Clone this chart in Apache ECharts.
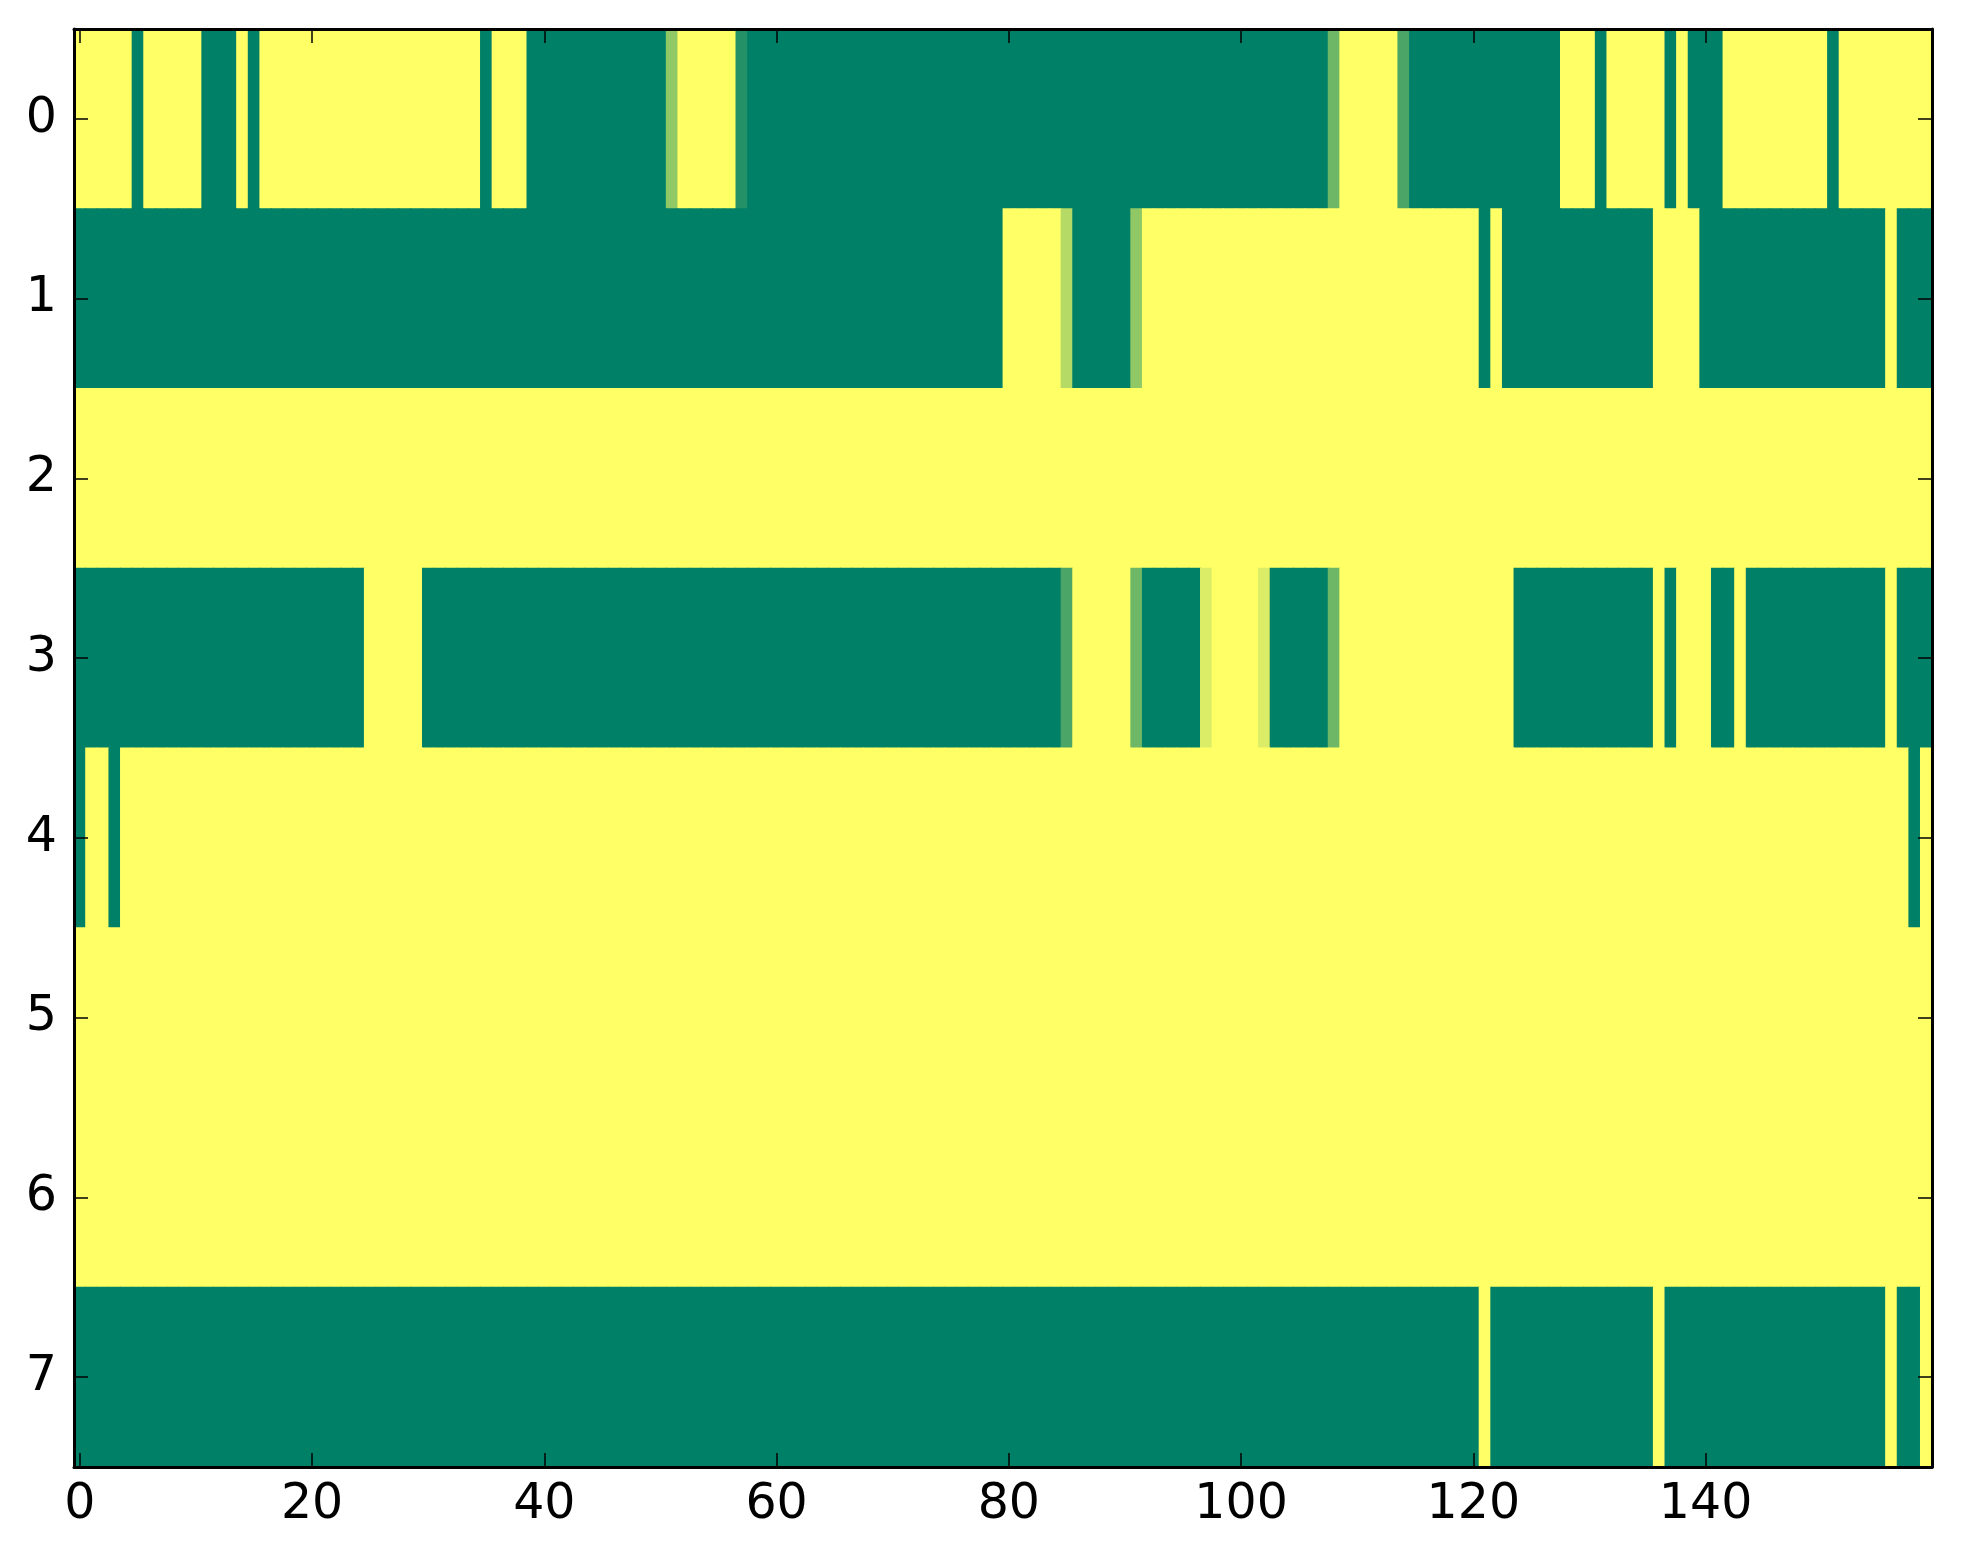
<!DOCTYPE html>
<html>
<head>
<meta charset="utf-8">
<script src="https://cdn.jsdelivr.net/npm/echarts@6/dist/echarts.min.js"></script>
<style>html,body{margin:0;padding:0;background:#fff;}#chart{width:1963px;height:1564px;}</style>
</head>
<body>
<div id="chart"></div>
<script>
// Column indices (x categories) and row indices (y categories)
const columnIndex = Array.from({length: 160}, (_, i) => i);
const rowIndex = [0, 1, 2, 3, 4, 5, 6, 7];
const xTickLabels = [0, 20, 40, 60, 80, 100, 120, 140];
const yTickLabels = [0, 1, 2, 3, 4, 5, 6, 7];

// Cell values (0 = green, 1 = yellow)
const row0 = [
  1,1,1,1,1,0,1,1,1,1,1,0,0,0,1,0,1,1,1,1,
  1,1,1,1,1,1,1,1,1,1,1,1,1,1,1,0,1,1,1,0,
  0,0,0,0,0,0,0,0,0,0,0,0.57,1,1,1,1,1,0.14,0,0,
  0,0,0,0,0,0,0,0,0,0,0,0,0,0,0,0,0,0,0,0,
  0,0,0,0,0,0,0,0,0,0,0,0,0,0,0,0,0,0,0,0,
  0,0,0,0,0,0,0,0,0.43,1,1,1,1,1,0.29,0,0,0,0,0,
  0,0,0,0,0,0,0,0,1,1,1,0,1,1,1,1,1,0,1,0,
  0,0,1,1,1,1,1,1,1,1,1,0,1,1,1,1,1,1,1,1
];
const row1 = [
  0,0,0,0,0,0,0,0,0,0,0,0,0,0,0,0,0,0,0,0,
  0,0,0,0,0,0,0,0,0,0,0,0,0,0,0,0,0,0,0,0,
  0,0,0,0,0,0,0,0,0,0,0,0,0,0,0,0,0,0,0,0,
  0,0,0,0,0,0,0,0,0,0,0,0,0,0,0,0,0,0,0,0,
  1,1,1,1,1,0.71,0,0,0,0,0,0.57,1,1,1,1,1,1,1,1,
  1,1,1,1,1,1,1,1,1,1,1,1,1,1,1,1,1,1,1,1,
  1,0,1,0,0,0,0,0,0,0,0,0,0,0,0,0,1,1,1,1,
  0,0,0,0,0,0,0,0,0,0,0,0,0,0,0,0,1,0,0,0
];
const row2 = [
  1,1,1,1,1,1,1,1,1,1,1,1,1,1,1,1,1,1,1,1,
  1,1,1,1,1,1,1,1,1,1,1,1,1,1,1,1,1,1,1,1,
  1,1,1,1,1,1,1,1,1,1,1,1,1,1,1,1,1,1,1,1,
  1,1,1,1,1,1,1,1,1,1,1,1,1,1,1,1,1,1,1,1,
  1,1,1,1,1,1,1,1,1,1,1,1,1,1,1,1,1,1,1,1,
  1,1,1,1,1,1,1,1,1,1,1,1,1,1,1,1,1,1,1,1,
  1,1,1,1,1,1,1,1,1,1,1,1,1,1,1,1,1,1,1,1,
  1,1,1,1,1,1,1,1,1,1,1,1,1,1,1,1,1,1,1,1
];
const row3 = [
  0,0,0,0,0,0,0,0,0,0,0,0,0,0,0,0,0,0,0,0,
  0,0,0,0,0,1,1,1,1,1,0,0,0,0,0,0,0,0,0,0,
  0,0,0,0,0,0,0,0,0,0,0,0,0,0,0,0,0,0,0,0,
  0,0,0,0,0,0,0,0,0,0,0,0,0,0,0,0,0,0,0,0,
  0,0,0,0,0,0.29,1,1,1,1,1,0.43,0,0,0,0,0,0.86,1,1,
  1,1,0.86,0,0,0,0,0,0.43,1,1,1,1,1,1,1,1,1,1,1,
  1,1,1,1,0,0,0,0,0,0,0,0,0,0,0,0,1,0,1,1,
  1,0,0,1,0,0,0,0,0,0,0,0,0,0,0,0,1,0,0,0
];
const row4 = [
  0,1,1,0,1,1,1,1,1,1,1,1,1,1,1,1,1,1,1,1,
  1,1,1,1,1,1,1,1,1,1,1,1,1,1,1,1,1,1,1,1,
  1,1,1,1,1,1,1,1,1,1,1,1,1,1,1,1,1,1,1,1,
  1,1,1,1,1,1,1,1,1,1,1,1,1,1,1,1,1,1,1,1,
  1,1,1,1,1,1,1,1,1,1,1,1,1,1,1,1,1,1,1,1,
  1,1,1,1,1,1,1,1,1,1,1,1,1,1,1,1,1,1,1,1,
  1,1,1,1,1,1,1,1,1,1,1,1,1,1,1,1,1,1,1,1,
  1,1,1,1,1,1,1,1,1,1,1,1,1,1,1,1,1,1,0,1
];
const row5 = [
  1,1,1,1,1,1,1,1,1,1,1,1,1,1,1,1,1,1,1,1,
  1,1,1,1,1,1,1,1,1,1,1,1,1,1,1,1,1,1,1,1,
  1,1,1,1,1,1,1,1,1,1,1,1,1,1,1,1,1,1,1,1,
  1,1,1,1,1,1,1,1,1,1,1,1,1,1,1,1,1,1,1,1,
  1,1,1,1,1,1,1,1,1,1,1,1,1,1,1,1,1,1,1,1,
  1,1,1,1,1,1,1,1,1,1,1,1,1,1,1,1,1,1,1,1,
  1,1,1,1,1,1,1,1,1,1,1,1,1,1,1,1,1,1,1,1,
  1,1,1,1,1,1,1,1,1,1,1,1,1,1,1,1,1,1,1,1
];
const row6 = [
  1,1,1,1,1,1,1,1,1,1,1,1,1,1,1,1,1,1,1,1,
  1,1,1,1,1,1,1,1,1,1,1,1,1,1,1,1,1,1,1,1,
  1,1,1,1,1,1,1,1,1,1,1,1,1,1,1,1,1,1,1,1,
  1,1,1,1,1,1,1,1,1,1,1,1,1,1,1,1,1,1,1,1,
  1,1,1,1,1,1,1,1,1,1,1,1,1,1,1,1,1,1,1,1,
  1,1,1,1,1,1,1,1,1,1,1,1,1,1,1,1,1,1,1,1,
  1,1,1,1,1,1,1,1,1,1,1,1,1,1,1,1,1,1,1,1,
  1,1,1,1,1,1,1,1,1,1,1,1,1,1,1,1,1,1,1,1
];
const row7 = [
  0,0,0,0,0,0,0,0,0,0,0,0,0,0,0,0,0,0,0,0,
  0,0,0,0,0,0,0,0,0,0,0,0,0,0,0,0,0,0,0,0,
  0,0,0,0,0,0,0,0,0,0,0,0,0,0,0,0,0,0,0,0,
  0,0,0,0,0,0,0,0,0,0,0,0,0,0,0,0,0,0,0,0,
  0,0,0,0,0,0,0,0,0,0,0,0,0,0,0,0,0,0,0,0,
  0,0,0,0,0,0,0,0,0,0,0,0,0,0,0,0,0,0,0,0,
  0,1,0,0,0,0,0,0,0,0,0,0,0,0,0,0,1,0,0,0,
  0,0,0,0,0,0,0,0,0,0,0,0,0,0,0,0,1,0,0,1
];
const rows = [row0, row1, row2, row3, row4, row5, row6, row7];

const cells = [];
rows.forEach((r, y) => r.forEach((v, x) => cells.push([x, y, v])));

const FONT = 'DejaVu Sans';
const tickShown = (i) => xTickLabels.indexOf(i) >= 0;
const axisLineStyle = {show: true, lineStyle: {color: '#000', width: 3}};
const tickStyle = {show: true, inside: true, length: 14, alignWithLabel: true, lineStyle: {color: '#000', width: 1.5}};

const chart = echarts.init(document.getElementById('chart'), null, {renderer: 'canvas'});
chart.setOption({
  animation: false,
  backgroundColor: '#ffffff',
  grid: {left: 74, top: 29, width: 1858, height: 1438, containLabel: false},
  xAxis: [
    {type: 'category', data: columnIndex, position: 'bottom', z: 10,
     axisLine: axisLineStyle,
     axisTick: Object.assign({}, tickStyle, {interval: (i) => tickShown(i)}),
     axisLabel: {interval: (i) => tickShown(i), fontFamily: FONT, fontSize: 49, color: '#000', margin: 14},
     splitLine: {show: false}},
    {type: 'category', data: columnIndex, position: 'top', z: 10,
     axisLine: axisLineStyle,
     axisTick: Object.assign({}, tickStyle, {interval: (i) => tickShown(i)}),
     axisLabel: {show: false}, splitLine: {show: false}}
  ],
  yAxis: [
    {type: 'category', data: yTickLabels, inverse: true, position: 'left', z: 10,
     axisLine: axisLineStyle,
     axisTick: Object.assign({}, tickStyle, {interval: 0}),
     axisLabel: {interval: 0, fontFamily: FONT, fontSize: 49, color: '#000', margin: 17},
     splitLine: {show: false}},
    {type: 'category', data: yTickLabels, inverse: true, position: 'right', z: 10,
     axisLine: axisLineStyle,
     axisTick: Object.assign({}, tickStyle, {interval: 0}),
     axisLabel: {show: false}, splitLine: {show: false}}
  ],
  visualMap: {type: 'continuous', show: false, min: 0, max: 1, dimension: 2, seriesIndex: 0,
              inRange: {color: ['#008066', '#ffff66']}},
  series: [{
    type: 'custom', xAxisIndex: 0, yAxisIndex: 0, data: cells,
    encode: {x: 0, y: 1},
    renderItem: function (params, api) {
      const c = api.coord([api.value(0), api.value(1)]);
      const s = api.size([1, 1]);
      return {
        type: 'rect',
        shape: {x: c[0] - s[0] / 2 - 0.4, y: c[1] - s[1] / 2 - 0.4, width: s[0] + 0.8, height: s[1] + 0.8},
        style: {fill: api.visual('color')},
        silent: true
      };
    },
    clip: true
  }]
});
</script>
</body>
</html>
